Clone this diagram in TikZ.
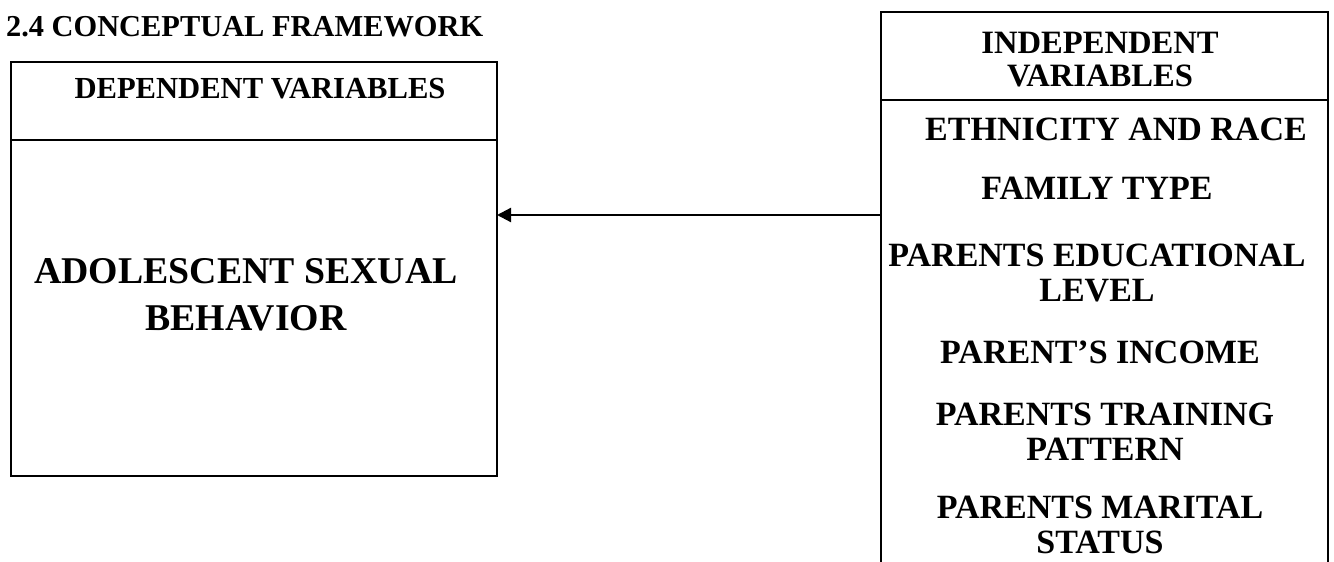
\documentclass[tikz,border=0pt]{standalone}
\usepackage{fontspec}
\setmainfont{Liberation Serif}
\usetikzlibrary{arrows.meta}
\begin{document}
\begin{tikzpicture}[x=0.5pt,y=-0.5pt, line width=1.1pt,
 ttl/.style={font=\bfseries\fontsize{15.2}{18}\selectfont, inner sep=0pt},
 hdr/.style={font=\bfseries\fontsize{15.3}{18}\selectfont, align=center, inner sep=0pt},
 ihdr/.style={font=\bfseries\fontsize{16.3}{16.5}\selectfont, align=center, inner sep=0pt},
 item/.style={font=\bfseries\fontsize{17}{17.5}\selectfont, align=center, inner sep=0pt},
 big/.style={font=\bfseries\fontsize{18.9}{23.5}\selectfont, align=center, inner sep=0pt}]
\useasboundingbox (0,0) rectangle (1334,562);
\node[ttl, anchor=west] (title) at (5,27) {2.4 CONCEPTUAL FRAMEWORK};
% dependent box
\coordinate (dtl) at (11,62);
\coordinate (dbr) at (497,476);
\draw (dtl) rectangle (dbr);
\coordinate (dsl) at (11,140);
\coordinate (dsr) at (497,140);
\draw (dsl) -- (dsr);
\node[hdr] (dhdr) at (260,89) {DEPENDENT VARIABLES};
\node[big] (dvar) at (246,295) {ADOLESCENT SEXUAL\\BEHAVIOR};
% independent box
\coordinate (itl) at (881,12);
\coordinate (itr) at (1328,12);
\coordinate (ibl) at (881,562);
\coordinate (ibr) at (1328,562);
\draw (ibl) -- (itl) -- (itr) -- (ibr);
\coordinate (isl) at (881,100);
\coordinate (isr) at (1328,100);
\draw (isl) -- (isr);
\node[ihdr] (ihdr) at (1100,60) {INDEPENDENT\\VARIABLES};
\node[item] (i1) at (1116,129) {ETHNICITY AND RACE};
\node[item] (i2) at (1097,188) {FAMILY TYPE};
\node[item] (i3) at (1097,273) {PARENTS EDUCATIONAL\\LEVEL};
\node[item] (i4) at (1100,352) {PARENT'S INCOME};
\node[item] (i5) at (1105,432) {PARENTS TRAINING\\PATTERN};
\node[item] (i6) at (1100,525) {PARENTS MARITAL\\STATUS};
% connector
\coordinate (afrom) at (881,215);
\coordinate (ato) at (497,215);
\draw[-{Triangle[length=7pt,width=7pt]}] (afrom) -- (ato);
\end{tikzpicture}
\end{document}
